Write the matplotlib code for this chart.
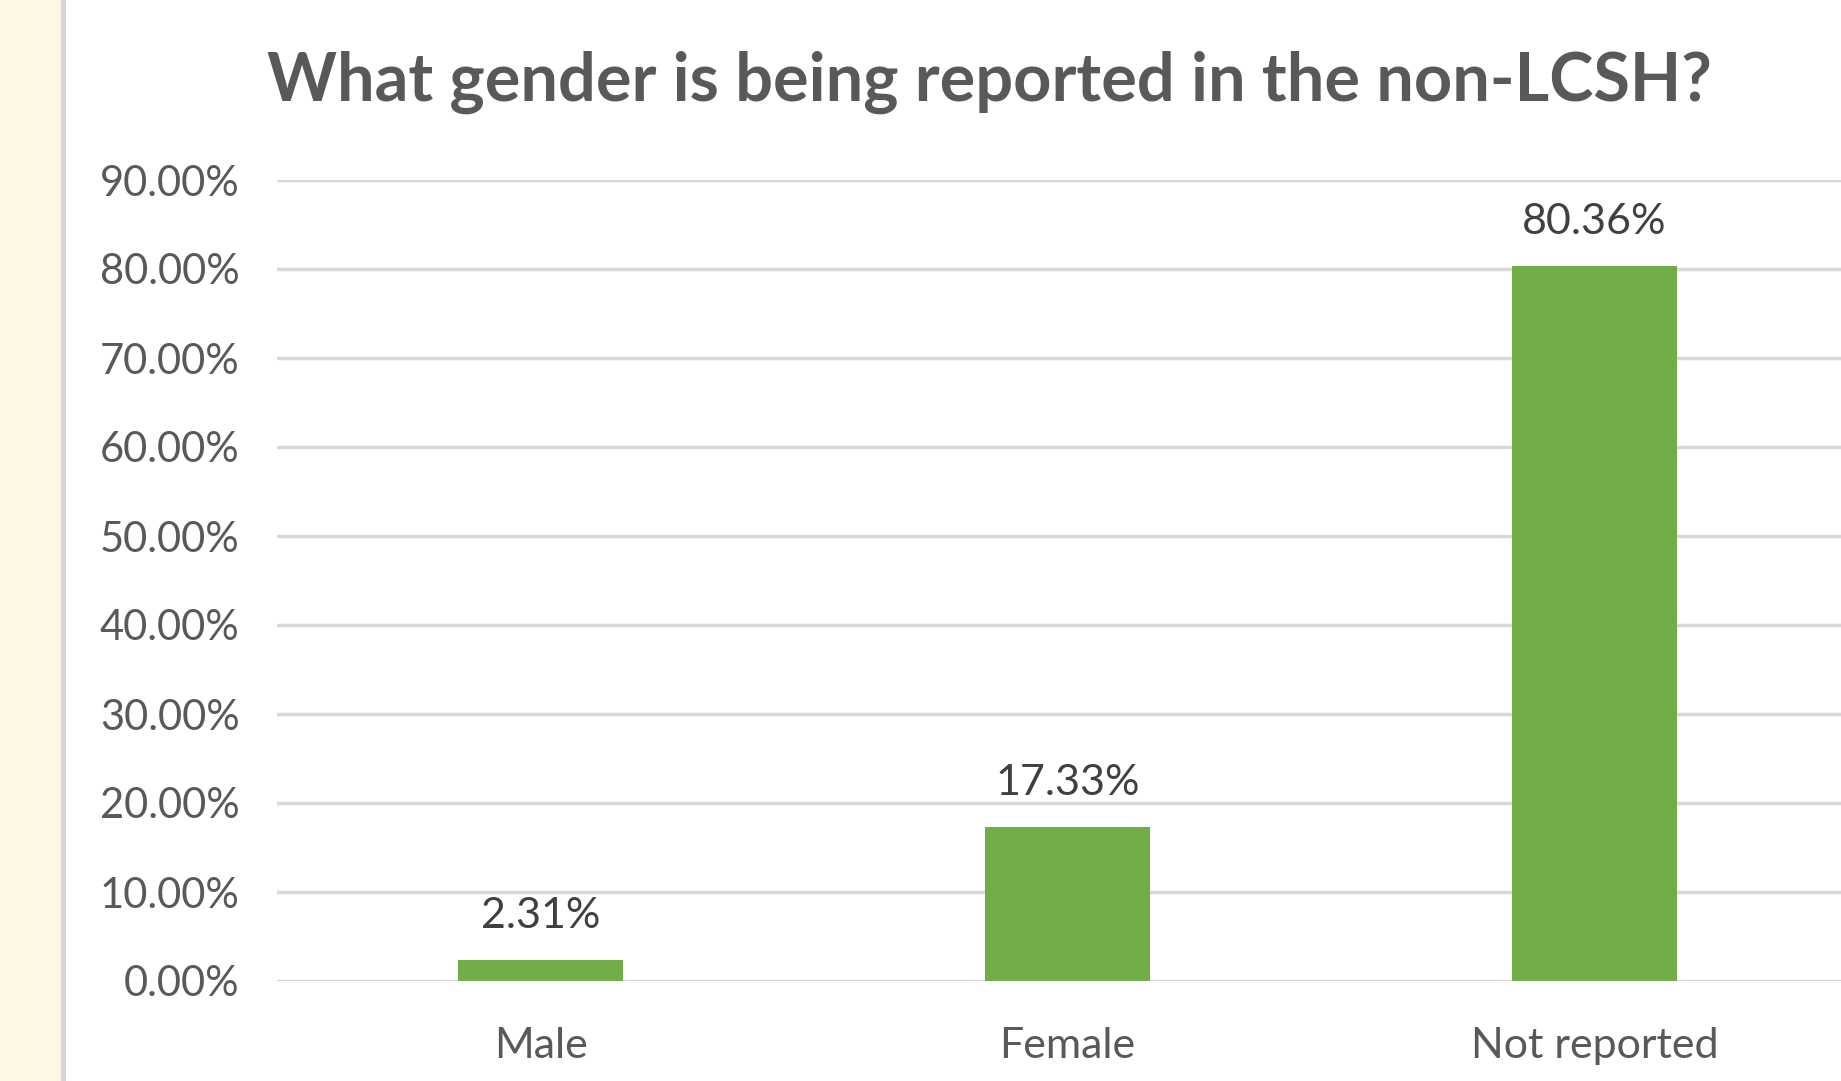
import matplotlib.pyplot as plt
import matplotlib.patches as mpatches
from matplotlib.ticker import FuncFormatter

categories = ['Male', 'Female', 'Not reported']
shares = [0.0231, 0.1733, 0.8036]
y_ticks = [0.0, 0.1, 0.2, 0.3, 0.4, 0.5, 0.6, 0.7, 0.8, 0.9]
title = 'What gender is being reported in the non-LCSH?'

plt.rcParams['font.family'] = ['Lato', 'DejaVu Sans']
text_grey = '#595959'

fig = plt.figure(figsize=(18.41, 10.81), dpi=100)
fig.patch.set_facecolor('white')

# cream strip + thin grey divider on the left edge
fig.patches.append(mpatches.Rectangle((0, 0), 61 / 1841, 1, transform=fig.transFigure,
                                      facecolor='#fef7e6', edgecolor='none', zorder=0))
fig.patches.append(mpatches.Rectangle((61 / 1841, 0), 5 / 1841, 1, transform=fig.transFigure,
                                      facecolor='#d6d6d6', edgecolor='none', zorder=0))

# axes spans past the right edge, like the cropped screenshot
ax = fig.add_axes([277 / 1841, 100 / 1081, 1581 / 1841, 801 / 1081])
ax.set_facecolor('none')

x = range(len(categories))
bars = ax.bar(x, shares, width=0.313, color='#70ad47', zorder=3)
ax.bar_label(bars, labels=['{:.2%}'.format(v) for v in shares], padding=18,
             fontsize=31, color='#404040')

ax.set_xlim(-0.5, 2.5)
ax.set_ylim(0, 0.9)
ax.set_yticks(y_ticks)
ax.yaxis.set_major_formatter(FuncFormatter(lambda v, _: '{:.2%}'.format(v)))
ax.set_xticks(list(x))
ax.set_xticklabels(categories)
ax.tick_params(axis='y', length=0, pad=27, labelsize=30, labelcolor=text_grey)
ax.tick_params(axis='x', length=0, pad=33, labelsize=31, labelcolor=text_grey)
ax.grid(axis='y', color='#d9d9d9', linewidth=2.5, zorder=0)
for s in ax.spines.values():
    s.set_visible(False)

fig.text(989 / 1841, 1 - 82 / 1081, title, ha='center', va='center',
         fontsize=48, fontweight='bold', color=text_grey)

fig.savefig('out.png', dpi=100)
